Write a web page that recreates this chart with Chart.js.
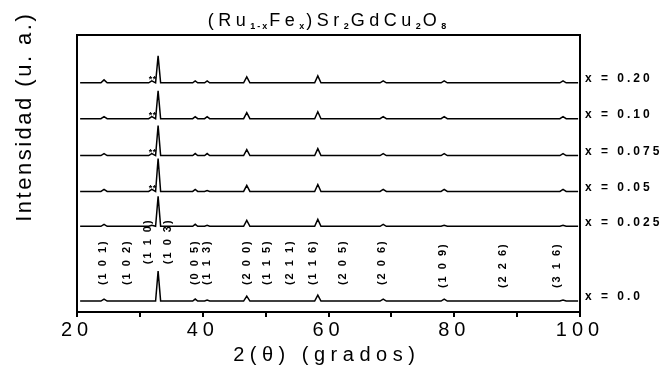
<!DOCTYPE html>
<html>
<head>
<meta charset="utf-8">
<script src="https://cdn.jsdelivr.net/npm/chart.js@4.4.1/dist/chart.umd.min.js"></script>
<style>
  html, body { margin: 0; padding: 0; background: #fff; }
  #wrap { width: 666px; height: 367px; }
</style>
</head>
<body>
<div id="wrap"><canvas id="xrd" width="666" height="367"></canvas></div>
<script>
// 2θ positions shared by all patterns (degrees)
const twoTheta = [20.5, 23.8, 24.3, 24.8, 31.4, 31.9, 32.5, 32.9, 33.3, 38.4, 38.8, 39.2,
                  40.3, 40.7, 41.1, 46.5, 47.0, 47.5, 57.8, 58.3, 58.8, 68.2, 68.7, 69.2,
                  77.9, 78.4, 78.9, 96.8, 97.3, 97.8, 99.7];

// intensities above each pattern's own baseline (u. a.)
const int020  = [0,0,3,0, 0,2, 0,27,0, 0,2,0, 0,2,0, 0,6,0, 0,7,0, 0,2,0, 0,2,0, 0,2,0, 0];
const int010  = [0,0,2,0, 0,2, 0,28,0, 0,2,0, 0,2,0, 0,6,0, 0,7,0, 0,2,0, 0,2,0, 0,2,0, 0];
const int0075 = [0,0,2,0, 0,2, 0,30,0, 0,2,0, 0,2,0, 0,6,0, 0,7,0, 0,2,0, 0,2,0, 0,2,0, 0];
const int005  = [0,0,2,0, 0,2, 0,33,0, 0,2,0, 0,1,0, 0,6,0, 0,7,0, 0,2,0, 0,2,0, 0,2,0, 0];
const int0025 = [0,0,2,0, 0,1, 0,30,0, 0,2,0, 0,1,0, 0,6,0, 0,7,0, 0,2,0, 0,1,0, 0,1,0, 0];
const int000  = [0,0,2,0, 0,0, 0,30,0, 0,2,0, 0,1,0, 0,5,0, 0,6,0, 0,2,0, 0,2,0, 0,1,0, 0];

const seriesLabels = ['x = 0.20', 'x = 0.10', 'x = 0.075', 'x = 0.05', 'x = 0.025', 'x = 0.0'];
const patterns = [int020, int010, int0075, int005, int0025, int000];
// vertical shift of each pattern (same units as intensity)
const offsets = [230, 194, 157, 121, 86, 11];

// Miller indices marked on the x = 0.0 pattern
const hklLabels = ['(1 0 1)', '(1 0 2)', '(1 1 0)', '(1 0 3)', '(0 0 5)', '(1 1 3)', '(2 0 0)', '(1 1 5)',
                   '(2 1 1)', '(1 1 6)', '(2 0 5)', '(2 0 6)', '(1 0 9)', '(2 2 6)', '(3 1 6)'];
const hklTheta  = [24.1, 27.9, 31.3, 34.5, 38.8, 40.7, 47.0, 50.2, 53.9, 57.5, 62.3, 68.5, 78.2, 87.8, 96.3];
const hklLevel  = [38, 38, 59, 59, 38, 38, 38, 38, 38, 38, 38, 38, 35, 35, 35];

// impurity marks "**"
const starTheta = 32.0;
const starSeries = [0, 1, 2, 3];

const xMin = 20, xMax = 100;
const xTickLabels = [20, 40, 60, 80, 100];
const yMax = 278;

const FONT = '"Liberation Sans", Arial, sans-serif';

// draw text char by char with extra spacing
function spaced(ctx, str, x, y, spacing, align) {
  const chars = Array.from(str);
  const ws = chars.map(c => ctx.measureText(c).width);
  const w = ws.reduce((a, b) => a + b, 0) + spacing * (chars.length - 1);
  let cx = align === 'center' ? x - w / 2 : (align === 'right' ? x - w : x);
  chars.forEach((c, i) => {
    ctx.fillText(c, cx, y);
    cx += ws[i] + spacing;
  });
  return w;
}

const textPlugin = {
  id: 'xrdText',
  beforeDraw(chart) {
    chart.ctx.letterSpacing = '5px';
  },
  afterDraw(chart) {
    const ctx = chart.ctx;
    const xs = chart.scales.x, ys = chart.scales.y;
    ctx.save();
    ctx.letterSpacing = '0px';
    ctx.fillStyle = '#000';
    ctx.textAlign = 'left';

    // title with subscripts
    const parts = [['(Ru', 0], ['1-x', 1], ['Fe', 0], ['x', 1], [')Sr', 0], ['2', 1],
                   ['GdCu', 0], ['2', 1], ['O', 0], ['8', 1]];
    const mainFont = '18px ' + FONT, subFont = 'bold 9px ' + FONT;
    let total = 0;
    parts.forEach(p => {
      ctx.font = p[1] ? subFont : mainFont;
      const sp = p[1] ? 2 : 4.5;
      Array.from(p[0]).forEach(c => { total += ctx.measureText(c).width + sp; });
    });
    let tx = 328 - total / 2;
    ctx.textBaseline = 'alphabetic';
    parts.forEach(p => {
      ctx.font = p[1] ? subFont : mainFont;
      const sp = p[1] ? 2 : 4.5;
      tx += spaced(ctx, p[0], tx, p[1] ? 29 : 26, sp, 'left') + sp;
    });

    // x axis title
    ctx.font = '20px ' + FONT;
    spaced(ctx, '2(θ) (grados)', 324, 361, 5.5, 'center');

    // y axis title
    ctx.save();
    ctx.translate(25, 118);
    ctx.rotate(-Math.PI / 2);
    ctx.textBaseline = 'middle';
    ctx.font = '22px ' + FONT;
    spaced(ctx, 'Intensidad (u. a.)', 0, 0, 2.5, 'center');
    ctx.restore();

    // series labels on the right
    ctx.font = 'bold 12px ' + FONT;
    ctx.textBaseline = 'middle';
    seriesLabels.forEach((lab, i) => {
      spaced(ctx, lab, xs.right + 5, ys.getPixelForValue(offsets[i] + 4), 3, 'left');
    });

    // Miller indices, vertical
    ctx.font = 'bold 11px ' + FONT;
    hklLabels.forEach((lab, i) => {
      ctx.save();
      ctx.translate(xs.getPixelForValue(hklTheta[i]), ys.getPixelForValue(offsets[5] + hklLevel[i]));
      ctx.rotate(-Math.PI / 2);
      ctx.textBaseline = 'middle';
      spaced(ctx, lab, 0, 0, 2, 'center');
      ctx.restore();
    });

    // impurity marks
    ctx.font = 'bold 9px ' + FONT;
    ctx.textBaseline = 'middle';
    starSeries.forEach(k => {
      spaced(ctx, '**', xs.getPixelForValue(starTheta), ys.getPixelForValue(offsets[k] + 3), 0.5, 'center');
    });

    ctx.restore();
    ctx.letterSpacing = '0px';
  }
};

const datasets = patterns.map((vals, k) => ({
  label: seriesLabels[k],
  data: twoTheta.map((t, i) => ({ x: t, y: offsets[k] + vals[i] })),
  borderColor: '#000',
  borderWidth: 1.5,
  pointRadius: 0,
  tension: 0,
  fill: false
}));

const frameAxis = {
  ticks: { display: false },
  grid: { drawOnChartArea: false, drawTicks: false },
  border: { display: true, color: '#000', width: 2 }
};

new Chart(document.getElementById('xrd').getContext('2d'), {
  type: 'line',
  data: { datasets },
  options: {
    responsive: false,
    animation: false,
    devicePixelRatio: 1,
    layout: { padding: { left: 77, right: 86, top: 35, bottom: 24 } },
    plugins: { legend: { display: false }, tooltip: { enabled: false }, title: { display: false } },
    scales: {
      x: {
        type: 'linear', position: 'bottom', min: xMin, max: xMax,
        ticks: {
          stepSize: 10, autoSkip: false, maxRotation: 0, padding: 1,
          color: '#000', font: { family: FONT, size: 20 },
          callback: v => xTickLabels.includes(v) ? String(v) : ''
        },
        grid: { drawOnChartArea: false, drawTicks: true, tickLength: 5, color: '#000', lineWidth: 2 },
        border: { display: true, color: '#000', width: 2 }
      },
      x2: Object.assign({ type: 'linear', position: 'top', min: xMin, max: xMax }, frameAxis),
      y: Object.assign({ type: 'linear', position: 'left', min: 0, max: yMax }, frameAxis),
      y2: Object.assign({ type: 'linear', position: 'right', min: 0, max: yMax }, frameAxis)
    }
  },
  plugins: [textPlugin]
});
</script>
</body>
</html>
